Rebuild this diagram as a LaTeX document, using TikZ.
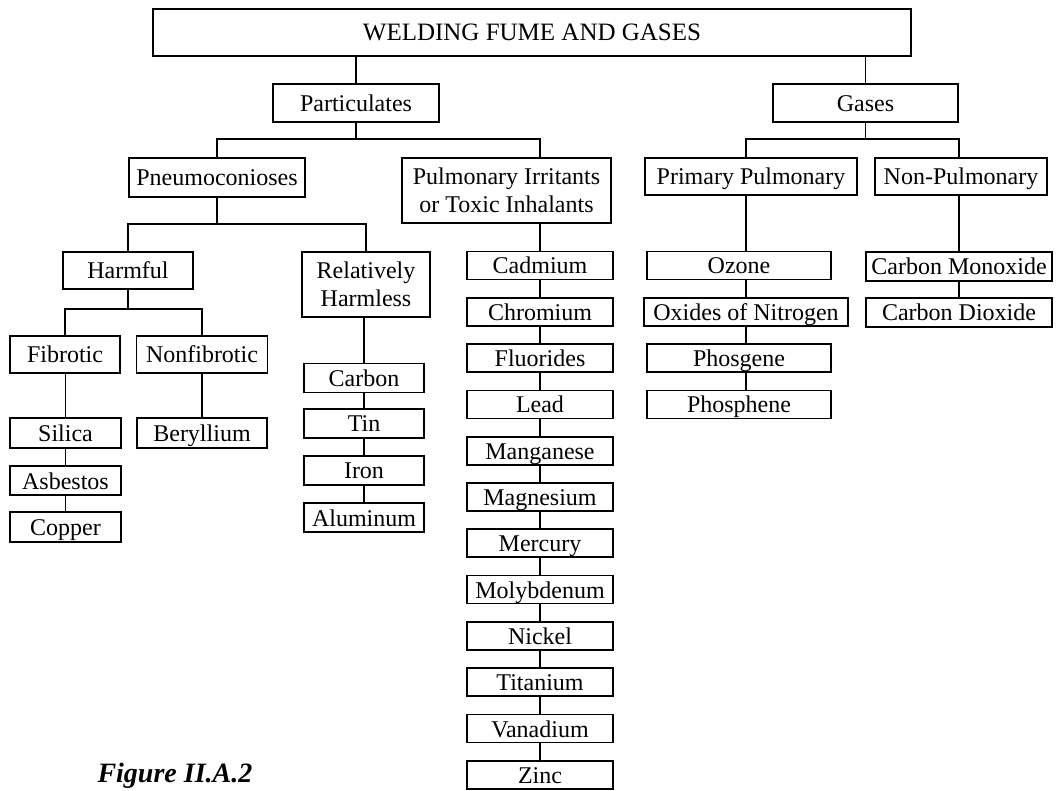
\documentclass[tikz,border=0pt]{standalone}
\usepackage{fontspec}
\setmainfont{Liberation Serif}

\tikzset{every picture/.style={line width=0.85pt}}
\tikzset{box/.style={draw, rectangle, inner sep=1pt, align=center, font=\fontsize{12}{14}\selectfont},
         tag/.style={box, text height=10pt, text depth=1.5pt},
         item/.style={tag, minimum height=14.5pt}}

\begin{document}
\begin{tikzpicture}[x=0.5pt,y=0.5pt,yscale=-1,xscale=1]
%set diagram left start at 0, and has height of 791
\useasboundingbox (0,0) rectangle (1056,791);

% Text Node
\node (top) at (532,32.5) [tag, minimum width=379pt, minimum height=23.5pt, font=\fontsize{12.5}{14}\selectfont] {WELDING FUME AND GASES};
% Text Node
\node (part) at (356,103) [tag, minimum width=83pt, minimum height=19pt] {Particulates};
\node (gases) at (865.5,103) [tag, minimum width=92.5pt, minimum height=19pt] {Gases};

% Text Node
\node (pneu) at (217,177.5) [tag, minimum width=88pt, minimum height=19.5pt] {Pneumoconioses};
\node (pulm) at (506.5,190.5) [box, minimum width=104.5pt, minimum height=32.5pt] {Pulmonary Irritants\\or Toxic Inhalants};
\node (prim) at (751,176.5) [tag, minimum width=106pt, minimum height=18.5pt] {Primary Pulmonary};
\node (nonp) at (961,176.5) [tag, minimum width=86pt, minimum height=18.5pt] {Non-Pulmonary};

% Text Node
\node (harm) at (128,270.5) [tag, minimum width=65pt, minimum height=18.5pt] {Harmful};
\node (rel) at (366,284.5) [box, minimum width=64pt, minimum height=32.5pt] {Relatively\\Harmless};
\node (fib) at (65,354.5) [tag, minimum width=55pt, minimum height=18.5pt] {Fibrotic};
\node (nonf) at (202,354.5) [tag, minimum width=65.5pt, minimum height=18.5pt] {Nonfibrotic};

% Text Node
\node (silica) at (65.5,433) [item, minimum width=55.5pt, minimum height=15pt] {Silica};
\node (asb) at (65.5,480.5) [item, minimum width=55.5pt] {Asbestos};
\node (cop) at (65.5,527) [item, minimum width=55.5pt, minimum height=15pt] {Copper};
\node (ber) at (202,433) [item, minimum width=65pt, minimum height=15pt] {Beryllium};

% Text Node
\node (carb) at (364,378) [item, minimum width=60pt] {Carbon};
\node (tin) at (364,423.5) [item, minimum width=60pt] {Tin};
\node (iron) at (364,470.5) [item, minimum width=60pt] {Iron};
\node (alu) at (364,517.5) [item, minimum width=60pt] {Aluminum};

% Text Node
\foreach \name [count=\i from 0] in {Cadmium,Chromium,Fluorides,Lead,Manganese,Magnesium,Mercury,Molybdenum,Nickel,Titanium,Vanadium,Zinc}
  \node (m\i) at (540,265.5+46.3*\i) [item, minimum width=73pt, minimum height=14pt] {\name};

% Text Node
\node (ozone) at (739,265.5) [item, minimum width=92pt, minimum height=14pt] {Ozone};
\node (oxid) at (746,311.8) [item, minimum width=102pt, minimum height=14pt] {Oxides of Nitrogen};
\node (phosg) at (739,358.1) [item, minimum width=92pt, minimum height=14pt] {Phosgene};
\node (phosp) at (739,404.4) [item, minimum width=92pt, minimum height=14pt] {Phosphene};
\node (co) at (959,266.5) [item, minimum width=93pt] {Carbon Monoxide};
\node (co2) at (959,312.5) [item, minimum width=93pt] {Carbon Dioxide};

% Text Node
\node (fig) at (90,776) [anchor=west, font=\fontsize{14}{16}\selectfont\bfseries\itshape] {Figure II.A.2};

%Straight Lines
\draw (top.south -| part) -- (part.north);
\draw (top.south -| gases) -- (gases.north);

%Straight Lines
\draw (pneu.north) -- ++(0,-18) coordinate (pbar) -| (m0.north |- pulm.north);
\draw (part.south) -- (part.south |- pbar);
\draw (m0.north |- pulm.south) -- (m0.north);

%Straight Lines
\draw (prim.north -| oxid) -- ++(0,-18) coordinate (gbar) -| (nonp.north -| co);
\draw (gases.south) -- (gases.south |- gbar);
\draw (prim.south -| oxid) -- (ozone.north -| oxid);
\draw (ozone.south -| oxid) -- (oxid.north);
\draw (oxid.south) -- (phosg.north -| oxid);
\draw (phosg.south -| oxid) -- (phosp.north -| oxid);
\draw (nonp.south -| co) -- (co.north);
\draw (co) -- (co2);

%Straight Lines
\draw (pneu.south) -- ++(0,26) coordinate (nbar);
\draw (harm.north) |- (nbar) -| (rel.north);
\draw (harm.south) -- ++(0,19) coordinate (hbar);
\draw (fib.north) |- (hbar) -| (nonf.north);
\draw (fib.south -| silica) -- (silica.north);
\draw (silica) -- (asb);
\draw (asb) -- (cop);
\draw (nonf) -- (ber);

%Straight Lines
\draw (rel.south -| carb) -- (carb.north);
\draw (carb) -- (tin);
\draw (tin) -- (iron);
\draw (iron) -- (alu);
\foreach \i [evaluate=\i as \j using int(\i+1)] in {0,...,10}
  \draw (m\i) -- (m\j);

\end{tikzpicture}
\end{document}
